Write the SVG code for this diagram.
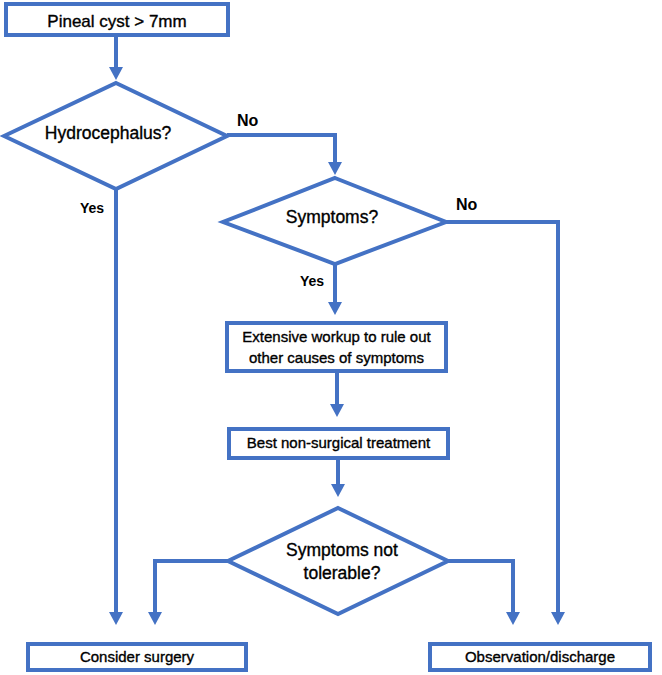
<svg xmlns="http://www.w3.org/2000/svg" width="662" height="675" viewBox="0 0 662 675">
<style>
.shape{fill:#ffffff;stroke:#4472C4;stroke-width:4;}
.conn{fill:none;stroke:#4472C4;stroke-width:4;marker-end:url(#arrow);}
text{font-family:"Liberation Sans",Arial,sans-serif;fill:#000000;stroke:#000000;stroke-width:0.35px;}
.big{font-size:17.5px;text-anchor:middle;}
.mid{font-size:15px;text-anchor:middle;}
.lbl{font-size:16px;font-weight:bold;stroke-width:0;}
</style>
<defs>
<marker id="arrow" markerUnits="userSpaceOnUse" markerWidth="14" markerHeight="14" refX="3" refY="7" orient="auto">
<path d="M0,0 L13,7 L0,14 z" fill="#4472C4"/>
</marker>
</defs>
<rect width="662" height="675" fill="#ffffff"/>
<g id="connectors">
<path class="conn" d="M116,37 V70"/>
<path class="conn" d="M227,135 H335 V165"/>
<path class="conn" d="M116,189 V615"/>
<path class="conn" d="M446,222 H558 V615"/>
<path class="conn" d="M335,264 V305"/>
<path class="conn" d="M337,373 V407"/>
<path class="conn" d="M338,460 V487"/>
<path class="conn" d="M228,561 H155 V615"/>
<path class="conn" d="M448,561 H513 V615"/>
</g>
<g id="labels">
<text class="lbl" x="237" y="126">No</text>
<text class="lbl" x="456" y="210">No</text>
<text class="lbl" x="300" y="286" style="font-size:14px">Yes</text>
<text class="lbl" x="80" y="213" style="font-size:14px">Yes</text>
</g>
<g id="start">
<rect class="shape" x="6" y="4" width="222" height="31"/>
<text class="big" x="117" y="27" style="font-size:17px">Pineal cyst &gt; 7mm</text>
</g>
<g id="hydrocephalus">
<polygon class="shape" points="116,83 227,136 116,189 4,136"/>
<text class="big" x="108" y="139">Hydrocephalus?</text>
</g>
<g id="symptoms">
<polygon class="shape" points="335,178 446,222 335,264 223,222"/>
<text class="big" x="332" y="223">Symptoms?</text>
</g>
<g id="workup">
<rect class="shape" x="227" y="323" width="219" height="48"/>
<text class="mid" x="336.5" y="342">Extensive workup to rule out</text>
<text class="mid" x="336.5" y="363">other causes of symptoms</text>
</g>
<g id="treatment">
<rect class="shape" x="229" y="429" width="219" height="29"/>
<text class="mid" x="338.5" y="448">Best non-surgical treatment</text>
</g>
<g id="tolerable">
<polygon class="shape" points="338,508 448,561 338,614 228,561"/>
<text class="big" x="342" y="556">Symptoms not</text>
<text class="big" x="342" y="579">tolerable?</text>
</g>
<g id="surgery">
<rect class="shape" x="28" y="644" width="218" height="26"/>
<text class="mid" x="137" y="662">Consider surgery</text>
</g>
<g id="observation">
<rect class="shape" x="430" y="644" width="220" height="26"/>
<text class="mid" x="540" y="662">Observation/discharge</text>
</g>
</svg>
